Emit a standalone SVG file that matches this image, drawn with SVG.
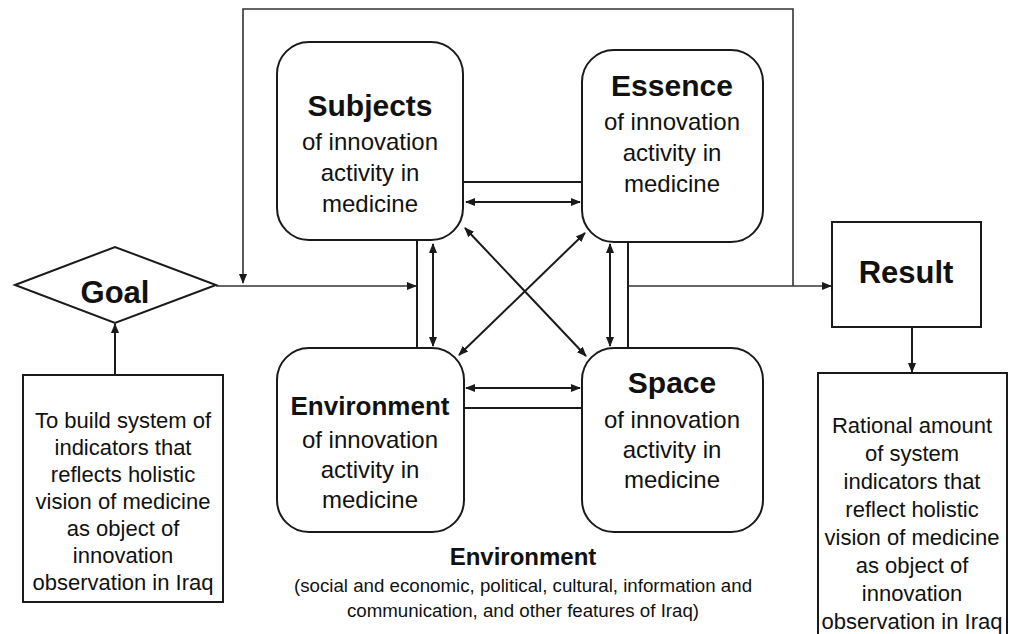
<svg xmlns="http://www.w3.org/2000/svg" width="1009" height="634" viewBox="0 0 1009 634">
<style>
.box{fill:#fff;stroke:#1a1a1a;stroke-width:2}
.ln{fill:none;stroke:#1a1a1a;stroke-width:2}
.thin{fill:none;stroke:#333;stroke-width:1.6}
text{font-family:"Liberation Sans",Arial,sans-serif;fill:#111;text-anchor:middle}
.b{font-weight:bold}
.t{font-size:24px}
.s{font-size:22px}
</style>
<defs>
<marker id="ah" markerUnits="userSpaceOnUse" markerWidth="10" markerHeight="10" refX="9" refY="5" orient="auto-start-reverse" viewBox="0 0 10 10">
<path d="M0,1 L10,5 L0,9 Z" fill="#1a1a1a"/>
</marker>
</defs>
<rect width="1009" height="634" fill="#fff"/>
<g id="connectors">
<polyline class="thin" points="793,286 793,9 243,9 243,283" marker-end="url(#ah)"/>
<line class="thin" x1="216" y1="286" x2="416" y2="286" marker-end="url(#ah)"/>
<line class="thin" x1="628" y1="286" x2="831" y2="286" marker-end="url(#ah)"/>
<line class="ln" x1="115" y1="375" x2="115" y2="324" marker-end="url(#ah)"/>
<line class="ln" x1="912" y1="327" x2="912" y2="372" marker-end="url(#ah)"/>
<line class="ln" x1="464" y1="182" x2="582" y2="182"/>
<line class="ln" x1="466" y1="202" x2="580" y2="202" marker-start="url(#ah)" marker-end="url(#ah)"/>
<line class="ln" x1="466" y1="388" x2="580" y2="388" marker-start="url(#ah)" marker-end="url(#ah)"/>
<line class="ln" x1="464" y1="408" x2="582" y2="408"/>
<line class="ln" x1="417" y1="241" x2="417" y2="348"/>
<line class="ln" x1="433" y1="244" x2="433" y2="346" marker-start="url(#ah)" marker-end="url(#ah)"/>
<line class="ln" x1="610" y1="244" x2="610" y2="346" marker-start="url(#ah)" marker-end="url(#ah)"/>
<line class="ln" x1="628" y1="242" x2="628" y2="348"/>
<line class="ln" x1="465" y1="228" x2="586" y2="356" marker-start="url(#ah)" marker-end="url(#ah)"/>
<line class="ln" x1="585" y1="233" x2="459" y2="355" marker-start="url(#ah)" marker-end="url(#ah)"/>
</g>
<g id="subjects">
<rect class="box" x="277" y="42" width="186" height="198" rx="32"/>
<text class="b" x="370" y="116" font-size="30">Subjects</text>
<text class="t" x="370" y="150">of innovation</text>
<text class="t" x="370" y="181">activity in</text>
<text class="t" x="370" y="212">medicine</text>
</g>
<g id="essence">
<rect class="box" x="582" y="50" width="181" height="192" rx="32"/>
<text class="b" x="672" y="96" font-size="30">Essence</text>
<text class="t" x="672" y="130">of innovation</text>
<text class="t" x="672" y="161">activity in</text>
<text class="t" x="672" y="192">medicine</text>
</g>
<g id="environment">
<rect class="box" x="277" y="348" width="187" height="184" rx="32"/>
<text class="b" x="370" y="415" font-size="26">Environment</text>
<text class="t" x="370" y="448">of innovation</text>
<text class="t" x="370" y="478">activity in</text>
<text class="t" x="370" y="508">medicine</text>
</g>
<g id="space">
<rect class="box" x="582" y="348" width="181" height="184" rx="32"/>
<text class="b" x="672" y="393" font-size="30">Space</text>
<text class="t" x="672" y="428">of innovation</text>
<text class="t" x="672" y="458">activity in</text>
<text class="t" x="672" y="488">medicine</text>
</g>
<g id="goal">
<polygon class="box" points="15,285 115,247 216,285 115,323"/>
<text class="b" x="115" y="303" font-size="31">Goal</text>
</g>
<g id="goal-text">
<rect class="box" x="23" y="375" width="200" height="227"/>
<text class="s" x="123" y="428">To build system of</text>
<text class="s" x="123" y="455">indicators that</text>
<text class="s" x="123" y="482">reflects holistic</text>
<text class="s" x="123" y="509">vision of medicine</text>
<text class="s" x="123" y="536">as object of</text>
<text class="s" x="123" y="563">innovation</text>
<text class="s" x="123" y="590">observation in Iraq</text>
</g>
<g id="result">
<rect class="box" x="832" y="222" width="149" height="105"/>
<text class="b" x="906" y="283" font-size="31">Result</text>
</g>
<g id="result-text">
<rect class="box" x="818" y="373" width="189" height="270"/>
<text class="s" x="912" y="433">Rational amount</text>
<text class="s" x="912" y="461">of system</text>
<text class="s" x="912" y="489">indicators that</text>
<text class="s" x="912" y="517">reflect holistic</text>
<text class="s" x="912" y="545">vision of medicine</text>
<text class="s" x="912" y="573">as object of</text>
<text class="s" x="912" y="601">innovation</text>
<text class="s" x="912" y="629">observation in Iraq</text>
</g>
<g id="env-label">
<text class="b" x="523" y="565" font-size="24">Environment</text>
<text x="523" y="592" font-size="18.7">(social and economic, political, cultural, information and</text>
<text x="523" y="617" font-size="18.7">communication, and other features of Iraq)</text>
</g>
</svg>
